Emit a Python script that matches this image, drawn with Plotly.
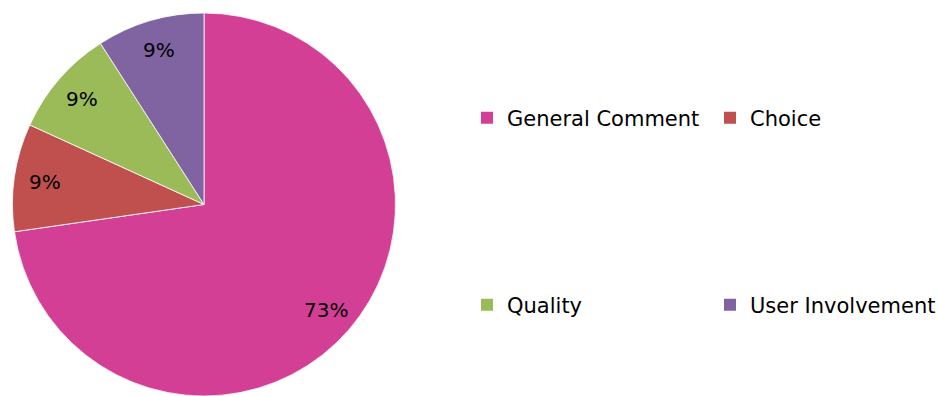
import math
import plotly.graph_objects as go

categories = ["General Comment", "Choice", "Quality", "User Involvement"]
counts = [8, 1, 1, 1]
colors = ["#D43F96", "#C0504D", "#9BBB59", "#8064A2"]
legend_rows = ["legend", "legend", "legend2", "legend2"]

FONT = "DejaVu Sans"
W, H = 939, 396
MT, MB = 13, 0
PLOT_H = H - MT - MB
PIE_DOMAIN_X = [0, 408 / W]
LABEL_R = 0.84  # label distance from centre, fraction of radius

fig = go.Figure()

fig.add_trace(go.Pie(
    labels=categories,
    values=counts,
    marker=dict(colors=colors, line=dict(color="white", width=0.8)),
    sort=False,
    direction="clockwise",
    rotation=0,
    textinfo="none",
    domain=dict(x=PIE_DOMAIN_X, y=[0, 1]),
    showlegend=False,
    hoverinfo="label+percent",
))

# percentage labels placed at each slice's mid-angle
total = sum(counts)
cx = (PIE_DOMAIN_X[0] + PIE_DOMAIN_X[1]) / 2
cy = 0.5
R_px = min((PIE_DOMAIN_X[1] - PIE_DOMAIN_X[0]) * W, PLOT_H) / 2
cum = 0
for v in counts:
    mid = (cum + v / 2) / total * 2 * math.pi
    cum += v
    dx = LABEL_R * R_px * math.sin(mid) / W
    dy = LABEL_R * R_px * math.cos(mid) / PLOT_H
    fig.add_annotation(
        x=cx + dx, y=cy + dy, xref="paper", yref="paper",
        text=f"{round(100 * v / total)}%", showarrow=False,
        font=dict(family=FONT, size=20, color="black"),
        xanchor="center", yanchor="middle",
    )

# legend entries
for cat, col, lg in zip(categories, colors, legend_rows):
    fig.add_trace(go.Scatter(
        x=[None], y=[None], mode="markers", name=cat,
        marker=dict(symbol="square", size=12, color=col, line=dict(width=0)),
        legend=lg, showlegend=True, hoverinfo="skip",
    ))


def py(px):
    return (H - px) / PLOT_H


legend_common = dict(
    orientation="h",
    x=467 / W, xanchor="left",
    yanchor="middle",
    font=dict(family=FONT, size=21, color="black"),
    entrywidth=198, entrywidthmode="pixels",
    bgcolor="rgba(0,0,0,0)",
)

fig.update_layout(
    width=W, height=H,
    margin=dict(l=0, r=0, t=MT, b=MB, autoexpand=False),
    paper_bgcolor="white",
    plot_bgcolor="white",
    font=dict(family=FONT, color="black"),
    xaxis=dict(visible=False),
    yaxis=dict(visible=False),
    legend=dict(y=py(118), **legend_common),
    legend2=dict(y=py(305), **legend_common),
)

fig.write_html("out.html")
